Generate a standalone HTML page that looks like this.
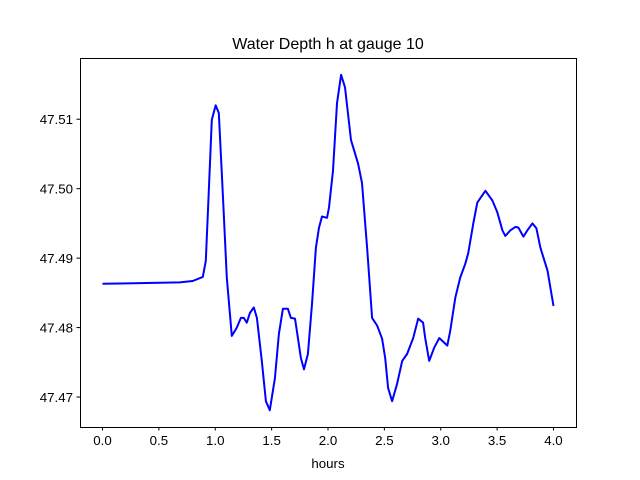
<!DOCTYPE html>
<html><head><meta charset="utf-8"><style>
body{margin:0;background:#fff;}
svg{display:block;font-family:"Liberation Sans","DejaVu Sans",sans-serif;}
</style></head><body>
<svg id="chart" width="640" height="480">
<rect x="0" y="0" width="640" height="480" fill="#fff"/>
<text x="328" y="49" font-size="16" text-anchor="middle">Water Depth h at gauge 10</text>
<text x="328" y="468" font-size="13.3" text-anchor="middle">hours</text>
<g id="ticks"></g>
<polyline id="series" fill="none" stroke="#0000ff" stroke-width="2" stroke-linejoin="round"/>
<rect x="80.5" y="58.5" width="496" height="369" fill="none" stroke="#000" stroke-width="1"/>
</svg>
<script>
const hours=[0,0.684,0.8,0.889,0.916,0.942,0.969,1.004,1.031,1.067,1.102,1.147,1.191,1.227,1.253,1.28,1.307,1.342,1.369,1.413,1.449,1.484,1.529,1.564,1.6,1.644,1.671,1.707,1.724,1.76,1.787,1.822,1.858,1.893,1.92,1.947,1.991,2.009,2.044,2.08,2.116,2.151,2.204,2.267,2.302,2.347,2.391,2.436,2.48,2.507,2.533,2.569,2.613,2.658,2.702,2.756,2.8,2.844,2.862,2.898,2.942,2.987,3.058,3.084,3.129,3.173,3.218,3.244,3.289,3.324,3.396,3.458,3.502,3.547,3.573,3.618,3.662,3.689,3.733,3.769,3.813,3.849,3.884,3.947,4.0];
const depth=[47.4863,47.4865,47.4867,47.4873,47.4896,47.4993,47.5099,47.5120,47.5109,47.4993,47.4872,47.4788,47.4800,47.4814,47.4814,47.4807,47.4821,47.4829,47.4814,47.4752,47.4694,47.4681,47.4727,47.4791,47.4827,47.4827,47.4814,47.4813,47.4795,47.4756,47.4740,47.4762,47.4834,47.4915,47.4944,47.4960,47.4958,47.4973,47.5026,47.5123,47.5164,47.5146,47.5070,47.5036,47.5008,47.4915,47.4814,47.4803,47.4784,47.4756,47.4713,47.4694,47.4719,47.4752,47.4762,47.4785,47.4813,47.4807,47.4785,47.4752,47.4771,47.4785,47.4774,47.4795,47.4843,47.4872,47.4892,47.4907,47.4950,47.4980,47.4997,47.4983,47.4966,47.4940,47.4932,47.4940,47.4945,47.4944,47.4931,47.4940,47.4950,47.4943,47.4915,47.4882,47.4831];
const xTicks=[0,0.5,1,1.5,2,2.5,3,3.5,4];
const xTickLabels=["0.0","0.5","1.0","1.5","2.0","2.5","3.0","3.5","4.0"];
const yTicks=[47.47,47.48,47.49,47.50,47.51];
const yTickLabels=["47.47","47.48","47.49","47.50","47.51"];
const L=80,R=576,T=58,B=427;
let xmin=Math.min(...hours),xmax=Math.max(...hours);
let dx=(xmax-xmin)*0.05;xmin-=dx;xmax+=dx;
let ymin=Math.min(...depth),ymax=Math.max(...depth);
let dy=(ymax-ymin)*0.05;ymin-=dy;ymax+=dy;
const sx=v=>L+(v-xmin)/(xmax-xmin)*(R-L);
const sy=v=>B-(v-ymin)/(ymax-ymin)*(B-T);
const NS="http://www.w3.org/2000/svg";
const g=document.getElementById('ticks');
xTicks.forEach((t,i)=>{
  const x=sx(t);
  const ln=document.createElementNS(NS,'line');
  ln.setAttribute('x1',x);ln.setAttribute('x2',x);ln.setAttribute('y1',B);ln.setAttribute('y2',B+3.5);ln.setAttribute('stroke','#000');
  
  
  g.appendChild(ln);
  const tx=document.createElementNS(NS,'text');
  tx.setAttribute('x',x);tx.setAttribute('y',B+18);tx.setAttribute('font-size','13.3');tx.setAttribute('text-anchor','middle');
  tx.textContent=xTickLabels[i];
  
  
  g.appendChild(tx);
});
yTicks.forEach((t,i)=>{
  const y=sy(t);
  const ln=document.createElementNS(NS,'line');
  ln.setAttribute('x1',L-3.5);ln.setAttribute('x2',L);ln.setAttribute('y1',y);ln.setAttribute('y2',y);ln.setAttribute('stroke','#000');
  
  
  g.appendChild(ln);
  const tx=document.createElementNS(NS,'text');
  tx.setAttribute('x',L-7);tx.setAttribute('y',y+5);tx.setAttribute('font-size','13.3');tx.setAttribute('text-anchor','end');
  tx.textContent=yTickLabels[i];
  
  
  g.appendChild(tx);
});
document.getElementById('series').setAttribute('points',hours.map((h,i)=>sx(h).toFixed(1)+','+sy(depth[i]).toFixed(1)).join(' '));
</script>
</body></html>
